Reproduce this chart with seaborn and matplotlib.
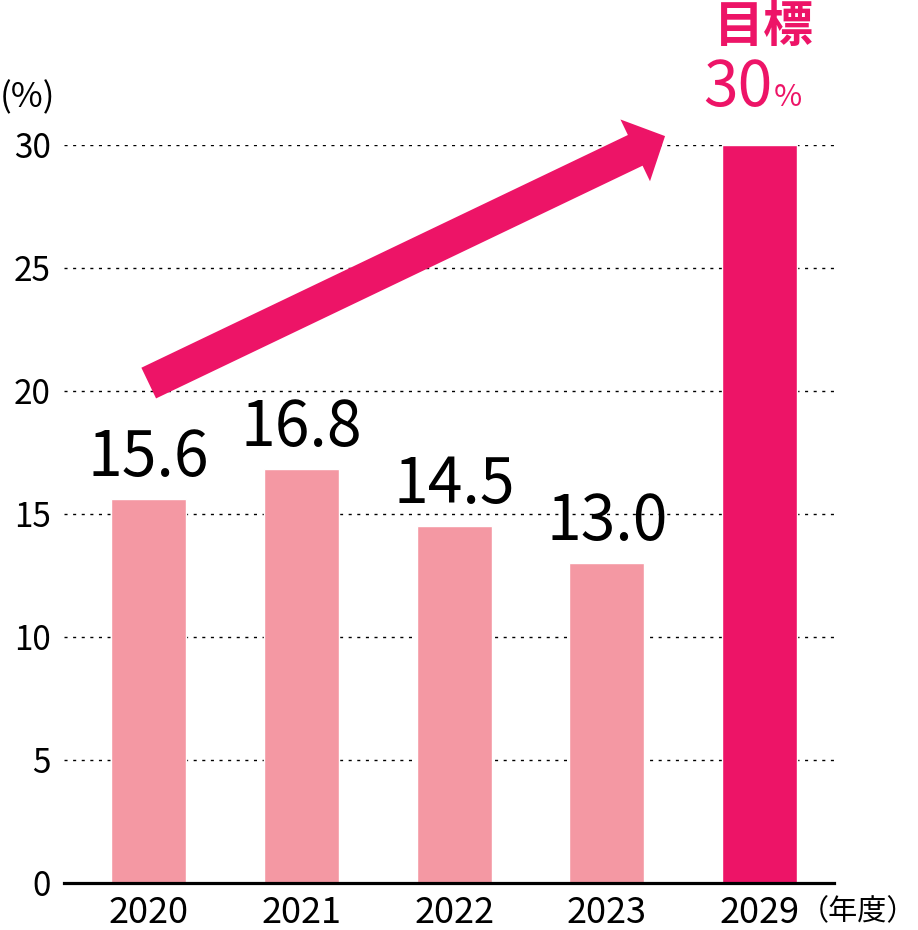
import matplotlib
matplotlib.use("Agg")
import matplotlib.pyplot as plt
import seaborn as sns
import pandas as pd

# ---- data ----
years = ["2020", "2021", "2022", "2023", "2029"]
values = [15.6, 16.8, 14.5, 13.0, 30.0]
bar_colors = ["#F498A3", "#F498A3", "#F498A3", "#F498A3", "#ED1467"]
value_labels = ["15.6", "16.8", "14.5", "13.0"]
goal_title = "目標"
goal_value = "30"
goal_unit = "%"
y_ticks = [0, 5, 10, 15, 20, 25, 30]
y_unit = "(%)"
x_unit = "（年度）"

sns.set_style("white")
plt.rcParams["font.family"] = ["Noto Sans CJK JP", "DejaVu Sans"]

W, H = 918, 930
fig = plt.figure(figsize=(W / 100, H / 100), dpi=100)

# axes geometry in pixels
px_left, px_right = 64.4, 834.3
px_zero = 882.7
px_per_unit = 24.6
px_top = px_zero - 30 * px_per_unit
ax = fig.add_axes([px_left / W, (H - px_zero) / H, (px_right - px_left) / W, (px_zero - px_top) / H])

df = pd.DataFrame({"year": years, "value": values})
sns.barplot(data=df, x="year", y="value", hue="year", palette=bar_colors,
            legend=False, width=0.491, saturation=1, ax=ax, zorder=2)

ax.set_xlim(-0.552, 4.488)
ax.set_ylim(0, 30)
ax.set_yticks(y_ticks)
ax.set_yticklabels([str(t) for t in y_ticks])
ax.set_xlabel("")
ax.set_ylabel("")

for s in ["left", "right", "top"]:
    ax.spines[s].set_visible(False)
ax.spines["bottom"].set_linewidth(2.3)
ax.spines["bottom"].set_color("black")
ax.spines["bottom"].set_zorder(5)

ax.tick_params(axis="y", length=0, pad=10, labelsize=24, labelcolor="black")
ax.tick_params(axis="x", length=0, pad=9, labelsize=26, labelcolor="black")

for t in y_ticks[1:]:
    ax.axhline(t, color="black", lw=1.0, linestyle=(0, (2.2, 4.0)), zorder=0)

# value labels
for i, lab in enumerate(value_labels):
    ax.text(i, values[i] + 0.95, lab, ha="center", va="baseline",
            fontsize=45, color="black", zorder=4)

# arrow
ax.annotate("", xy=(3.38, 30.35), xytext=(0.0, 20.31),
            xycoords="data", textcoords="data", annotation_clip=False,
            arrowprops=dict(arrowstyle="simple,head_length=23.8,head_width=49.3,tail_width=24.5",
                            mutation_scale=1, color="#ED1467", lw=0,
                            shrinkA=0, shrinkB=0), zorder=3)

# goal text
pink = "#ED1467"
ax.text(4.03, 34.78, goal_title, ha="center", va="center", fontsize=36,
        fontweight="bold", color=pink, clip_on=False)
ax.text(4.087, 31.57, goal_value, ha="right", va="baseline", fontsize=45,
        color=pink, clip_on=False)
ax.text(4.09, 31.57, goal_unit, ha="left", va="baseline", fontsize=22,
        color=pink, clip_on=False)

# unit labels
fig.text(0.0, 1 - 98 / H, y_unit, ha="left", va="center", fontsize=25, color="black")
fig.text(916 / W, 1 - 912 / H, x_unit, ha="right", va="center", fontsize=21, color="black")

fig.savefig("out.png", dpi=100)
